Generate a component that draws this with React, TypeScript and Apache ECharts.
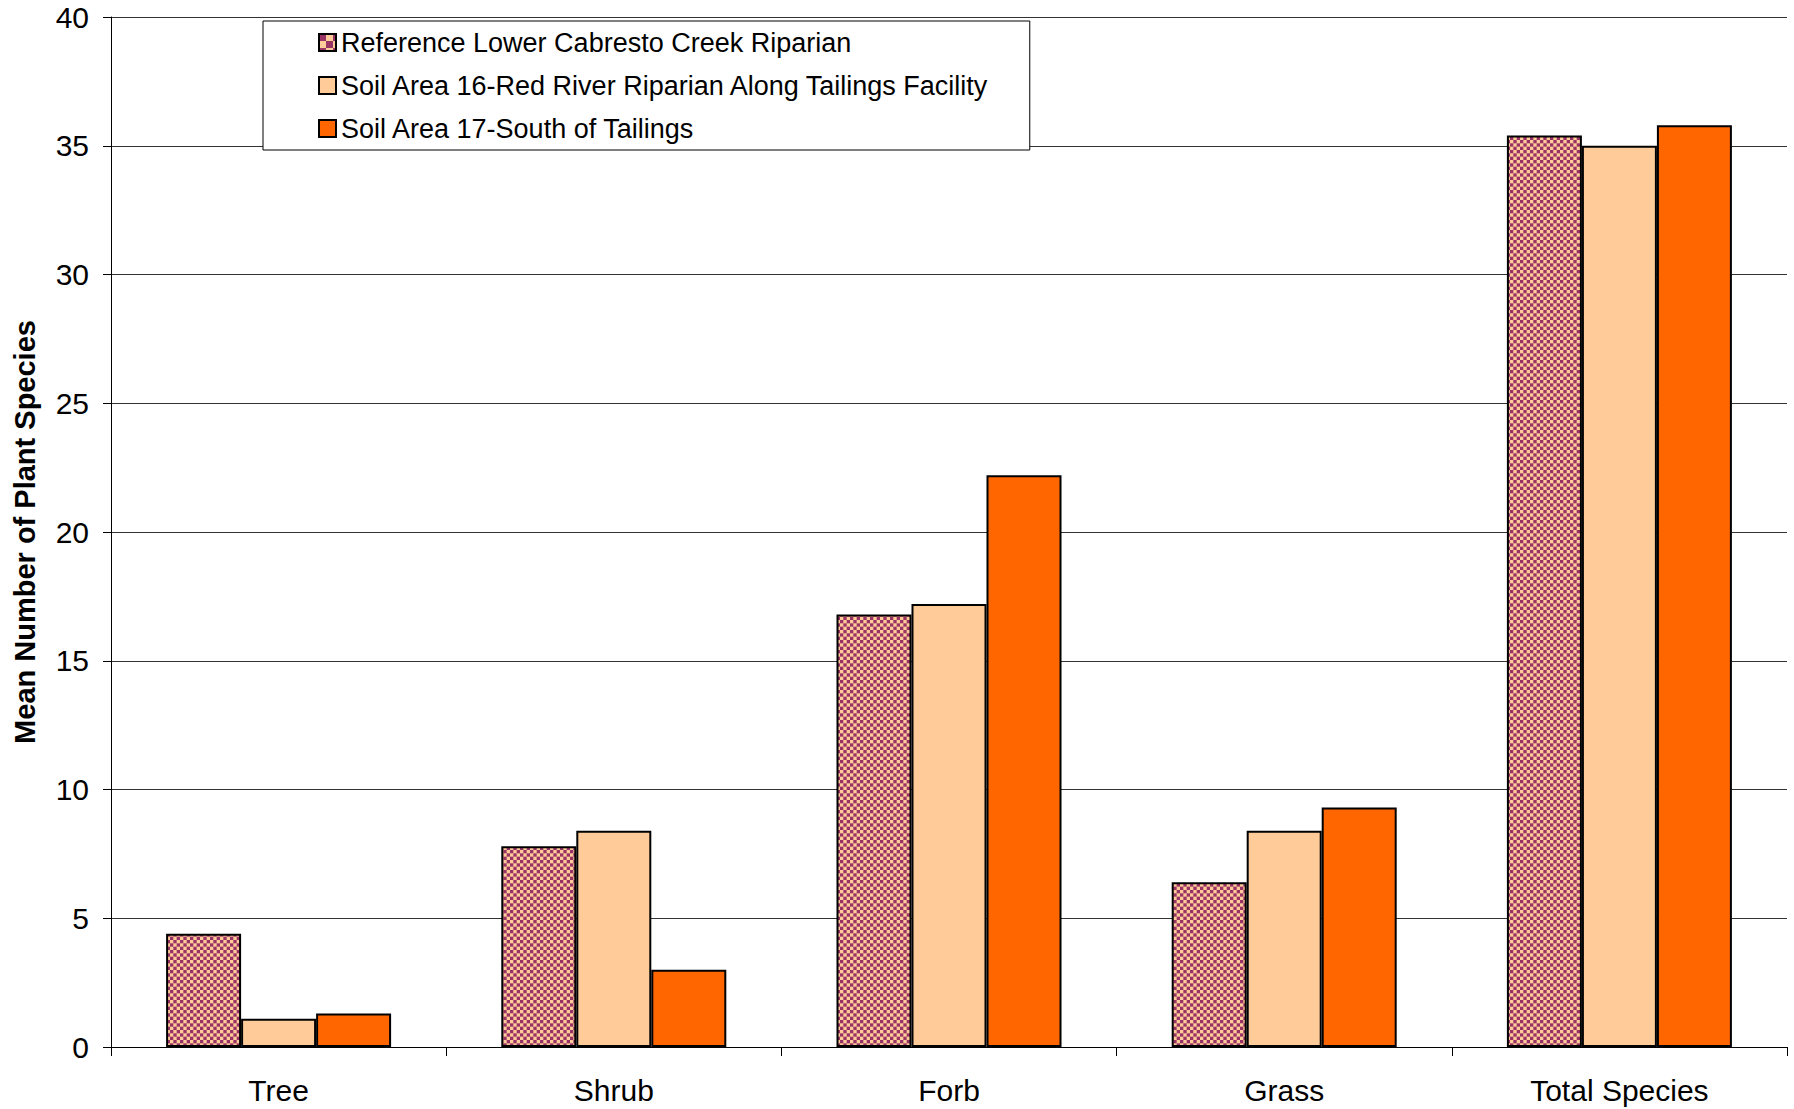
import React, { useEffect, useRef } from "react";
import * as echarts from "echarts";

const categories = ["Tree", "Shrub", "Forb", "Grass", "Total Species"];
const seriesNames = [
  "Reference Lower Cabresto Creek Riparian",
  "Soil Area 16-Red River Riparian Along Tailings Facility",
  "Soil Area 17-South of Tailings",
];
const referenceValues = [4.4, 7.8, 16.8, 6.4, 35.4];
const area16Values = [1.1, 8.4, 17.2, 8.4, 35.0];
const area17Values = [1.3, 3.0, 22.2, 9.3, 35.8];
const yTicks = { min: 0, max: 40, interval: 5 };

const MAROON = "#993366";
const PEACH = "#FFCC99";
const ORANGE = "#FF6600";
const FONT = "'Liberation Sans', Arial, sans-serif";

// Checkerboard tile: `periods` full checker repeats across a square canvas of `size` px.
function makeChecker(size: number, periods: number) {
  const c = document.createElement("canvas");
  c.width = size;
  c.height = size;
  const ctx = c.getContext("2d")!;
  ctx.fillStyle = PEACH;
  ctx.fillRect(0, 0, size, size);
  ctx.fillStyle = MAROON;
  const n = periods * 2;
  const cell = size / n;
  for (let i = 0; i < n; i++) {
    for (let j = 0; j < n; j++) {
      if ((i + j) % 2 === 0) ctx.fillRect(i * cell, j * cell, cell, cell);
    }
  }
  return c;
}

export default function App() {
  const ref = useRef<HTMLDivElement>(null);

  useEffect(() => {
    if (!ref.current) return;
    const chart = echarts.init(ref.current, null, { renderer: "svg" });

    const barTile = makeChecker(20, 3);
    const iconTile = makeChecker(14, 1);
    const barPattern: any = { image: barTile, repeat: "repeat", imageWidth: 20, imageHeight: 20 };
    const iconPattern: any = { image: iconTile, repeat: "repeat", imageWidth: 14, imageHeight: 14 };

    const border = { borderColor: "#000", borderWidth: 2 };

    chart.setOption({
      animation: false,
      backgroundColor: "#fff",
      textStyle: { fontFamily: FONT, color: "#000" },
      grid: {
        left: 111,
        top: 17,
        right: 7,
        bottom: 62,
        containLabel: false,
        outerBoundsMode: "none",
      },
      legend: {
        left: 263,
        top: 21,
        orient: "vertical",
        itemWidth: 17,
        itemHeight: 17,
        itemGap: 16,
        padding: [8, 39, 8, 55],
        backgroundColor: "#fff",
        borderColor: "#000",
        borderWidth: 1,
        borderRadius: 0,
        textStyle: { fontSize: 27, lineHeight: 27, color: "#000", fontFamily: FONT },
        data: [
          { name: seriesNames[0], icon: "rect", itemStyle: { color: iconPattern, ...border } },
          { name: seriesNames[1], icon: "rect" },
          { name: seriesNames[2], icon: "rect" },
        ],
      },
      xAxis: {
        type: "category",
        data: categories,
        boundaryGap: true,
        axisLine: { lineStyle: { color: "#000", width: 1 } },
        axisTick: { show: true, length: 9, interval: 0, lineStyle: { color: "#000" } },
        axisLabel: { fontSize: 30, color: "#000", margin: 28, interval: 0, fontFamily: FONT },
      },
      yAxis: {
        type: "value",
        min: yTicks.min,
        max: yTicks.max,
        interval: yTicks.interval,
        name: "Mean Number of Plant Species",
        nameLocation: "middle",
        nameRotate: 90,
        nameGap: 72,
        nameMoveOverlap: false,
        nameTextStyle: { fontSize: 29, fontWeight: "bold", color: "#000", fontFamily: FONT },
        axisLine: { show: true, lineStyle: { color: "#000", width: 1 } },
        axisTick: { show: true, length: 8, lineStyle: { color: "#000" } },
        axisLabel: { fontSize: 30, color: "#000", margin: 22, fontFamily: FONT },
        splitLine: { show: true, lineStyle: { color: "#333", width: 1 } },
      },
      series: [
        {
          name: seriesNames[0],
          type: "bar",
          data: referenceValues,
          barWidth: 75,
          barGap: "0%",
          itemStyle: { color: barPattern, ...border },
        },
        {
          name: seriesNames[1],
          type: "bar",
          data: area16Values,
          barWidth: 75,
          barGap: "0%",
          itemStyle: { color: PEACH, ...border },
        },
        {
          name: seriesNames[2],
          type: "bar",
          data: area17Values,
          barWidth: 75,
          barGap: "0%",
          itemStyle: { color: ORANGE, ...border },
        },
      ],
    });

    return () => chart.dispose();
  }, []);

  return (
    <div
      ref={ref}
      style={{ position: "absolute", left: 0, top: 0, width: 1794, height: 1109 }}
    />
  );
}
